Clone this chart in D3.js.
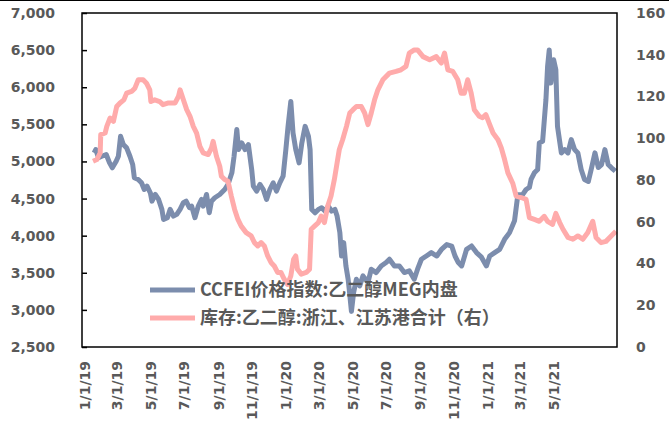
<!DOCTYPE html>
<html>
<head>
<meta charset="utf-8">
<script src="https://cdnjs.cloudflare.com/ajax/libs/d3/7.8.5/d3.min.js"></script>
<style>
  body { margin: 0; background: #fff; }
  svg { display: block; }
</style>
</head>
<body>
<div id="chart"></div>
<script>
// price index (left axis)
var priceDates = ["2019-01-19","2019-01-22","2019-01-27","2019-02-02","2019-02-10","2019-02-16","2019-02-21","2019-02-28","2019-03-04","2019-03-08","2019-03-13","2019-03-19","2019-03-25","2019-03-30","2019-04-02","2019-04-09","2019-04-15","2019-04-20","2019-04-25","2019-05-01","2019-05-04","2019-05-10","2019-05-16","2019-05-22","2019-05-25","2019-06-01","2019-06-06","2019-06-12","2019-06-18","2019-06-24","2019-06-30","2019-07-05","2019-07-11","2019-07-15","2019-07-21","2019-07-27","2019-08-02","2019-08-05","2019-08-11","2019-08-16","2019-08-20","2019-08-26","2019-09-04","2019-09-13","2019-09-19","2019-09-26","2019-09-30","2019-10-05","2019-10-08","2019-10-14","2019-10-20","2019-10-26","2019-11-01","2019-11-04","2019-11-10","2019-11-16","2019-11-22","2019-11-28","2019-12-04","2019-12-10","2019-12-16","2019-12-22","2019-12-28","2020-01-02","2020-01-06","2020-01-11","2020-01-15","2020-01-20","2020-01-26","2020-01-31","2020-02-06","2020-02-12","2020-02-15","2020-02-18","2020-02-24","2020-03-01","2020-03-07","2020-03-13","2020-03-19","2020-03-25","2020-03-31","2020-04-04","2020-04-09","2020-04-12","2020-04-16","2020-04-20","2020-04-24","2020-04-26","2020-04-30","2020-05-04","2020-05-09","2020-05-15","2020-05-21","2020-05-30","2020-06-05","2020-06-14","2020-06-23","2020-07-02","2020-07-08","2020-07-17","2020-07-26","2020-08-04","2020-08-13","2020-08-22","2020-08-28","2020-09-04","2020-09-13","2020-09-22","2020-10-02","2020-10-11","2020-10-20","2020-10-29","2020-11-04","2020-11-10","2020-11-16","2020-11-25","2020-12-04","2020-12-13","2020-12-22","2020-12-31","2021-01-06","2021-01-15","2021-01-24","2021-02-02","2021-02-11","2021-02-20","2021-02-26","2021-03-07","2021-03-13","2021-03-19","2021-03-22","2021-03-28","2021-04-03","2021-04-06","2021-04-12","2021-04-18","2021-04-21","2021-04-24","2021-04-27","2021-05-02","2021-05-06","2021-05-09","2021-05-16","2021-05-22","2021-05-28","2021-06-03","2021-06-09","2021-06-15","2021-06-21","2021-06-27","2021-07-04","2021-07-10","2021-07-16","2021-07-22","2021-07-28","2021-08-03","2021-08-09","2021-08-15","2021-08-22"];
var priceValues = [5115,5160,5052,5070,5093,4981,4914,5003,5070,5338,5227,5183,5070,4958,4780,4757,4712,4622,4667,4578,4465,4555,4488,4354,4219,4242,4354,4264,4287,4354,4444,4465,4377,4398,4242,4398,4488,4398,4555,4309,4465,4511,4555,4622,4690,4847,5070,5429,5160,5250,5160,5227,4891,4667,4600,4690,4622,4488,4622,4712,4600,4712,4801,5160,5473,5809,5384,5160,4981,5250,5473,5338,5160,4354,4309,4354,4377,4331,4398,4331,4354,4264,4041,3726,3906,3592,3413,3279,2980,3235,3413,3323,3458,3369,3548,3503,3592,3638,3682,3592,3592,3503,3526,3413,3548,3682,3726,3772,3726,3820,3880,3860,3726,3638,3592,3816,3861,3772,3710,3592,3726,3772,3816,3951,4041,4200,4550,4555,4622,4650,4757,4847,4891,5250,5271,5831,6279,6503,6056,6369,6234,5473,5115,5160,5115,5294,5160,5115,4891,4757,4730,4918,5115,4918,4958,5160,4958,4914,4868];

// port inventory (right axis)
var invDates = ["2019-01-17","2019-01-24","2019-01-30","2019-01-31","2019-02-08","2019-02-11","2019-02-17","2019-02-23","2019-03-01","2019-03-07","2019-03-14","2019-03-19","2019-03-28","2019-04-03","2019-04-09","2019-04-18","2019-04-24","2019-04-30","2019-05-02","2019-05-09","2019-05-18","2019-05-24","2019-06-03","2019-06-15","2019-06-21","2019-06-24","2019-06-30","2019-07-06","2019-07-12","2019-07-18","2019-07-24","2019-07-30","2019-08-05","2019-08-14","2019-08-20","2019-08-23","2019-08-29","2019-09-04","2019-09-07","2019-09-13","2019-09-19","2019-09-25","2019-10-01","2019-10-07","2019-10-13","2019-10-22","2019-10-31","2019-11-06","2019-11-12","2019-11-18","2019-11-24","2019-11-30","2019-12-06","2019-12-12","2019-12-18","2019-12-24","2019-12-30","2020-01-05","2020-01-11","2020-01-16","2020-01-20","2020-01-23","2020-01-30","2020-02-08","2020-02-14","2020-02-17","2020-02-23","2020-03-01","2020-03-06","2020-03-12","2020-03-18","2020-03-24","2020-03-30","2020-04-04","2020-04-08","2020-04-14","2020-04-21","2020-04-27","2020-05-03","2020-05-09","2020-05-18","2020-05-24","2020-05-30","2020-06-05","2020-06-11","2020-06-17","2020-06-26","2020-07-08","2020-07-20","2020-07-29","2020-08-07","2020-08-13","2020-08-22","2020-08-28","2020-09-07","2020-09-19","2020-10-01","2020-10-10","2020-10-16","2020-10-22","2020-10-31","2020-11-09","2020-11-15","2020-11-21","2020-11-27","2020-12-03","2020-12-09","2020-12-18","2020-12-24","2020-12-30","2021-01-06","2021-01-12","2021-01-21","2021-01-27","2021-02-02","2021-02-08","2021-02-17","2021-02-23","2021-03-04","2021-03-13","2021-03-19","2021-03-28","2021-04-06","2021-04-15","2021-04-21","2021-04-30","2021-05-06","2021-05-13","2021-05-19","2021-05-28","2021-06-06","2021-06-15","2021-06-24","2021-07-03","2021-07-12","2021-07-18","2021-07-27","2021-08-05","2021-08-14","2021-08-23"];
var invValues = [89,89.8,93,101.7,102.5,105.7,109.7,108.1,115.2,116.9,118.4,121.6,122.4,124,128,128,126.4,123.2,117.6,118.4,117.6,116.1,116.9,116.9,120,123.2,118.4,113.7,110.5,105.7,102.5,96.1,93,92.2,95.4,98.5,91.4,86.6,81.8,80.2,79.4,72.3,65.9,61.1,57.9,54.8,53.2,50,48.4,50,48.4,43.6,40.5,38.8,35.7,35.7,32.5,30,34.1,42,43.6,37.3,34.9,35.7,37.3,56.4,57.9,59.6,62.7,59.6,67.5,72.3,80.2,88.2,94.6,99.3,105.7,112.1,113.7,115.2,115.2,112.1,106.5,112.1,118.4,123.2,128,131.2,132,132.8,134.4,140.8,142.3,142.3,139.1,137.6,139.1,136,140.8,132.8,132,128,121.6,121.6,128,122,113.7,110.5,109.8,111.3,106.5,102.5,99.3,95.4,89.8,83.4,78.3,72.3,71.6,70.7,62,61.1,60.2,62.6,60.2,58.7,64,59.6,56.4,52.5,51.6,53.2,51.6,54.8,60.2,52.5,50,50.6,53,55.4];

var leftTicks = [2500,3000,3500,4000,4500,5000,5500,6000,6500,7000];
var rightTicks = [0,20,40,60,80,100,120,140,160];
var xTickLabels = ["1/1/19","3/1/19","5/1/19","7/1/19","9/1/19","11/1/19","1/1/20","3/1/20","5/1/20","7/1/20","9/1/20","11/1/20","1/1/21","3/1/21","5/1/21"];
var seriesNames = ["CCFEI价格指数:乙二醇MEG内盘", "库存:乙二醇:浙江、江苏港合计（右）"];
var seriesColors = ["#7c8dad", "#ffabab"];

var W = 669, H = 423;
var margin = {top: 13, left: 82, right: 52, bottom: 76};
var width = W - margin.left - margin.right,
    height = H - margin.top - margin.bottom;

var parseDay = d3.timeParse("%Y-%m-%d");
var parseTick = d3.timeParse("%m/%d/%y");

var svg = d3.select("#chart").append("svg")
    .attr("width", W)
    .attr("height", H);

// thin rule across the top of the picture
svg.append("line")
    .attr("x1", 0).attr("x2", W)
    .attr("y1", 0.5).attr("y2", 0.5)
    .attr("stroke", "#000").attr("stroke-width", 1);

var g = svg.append("g")
    .attr("transform", "translate(" + margin.left + "," + margin.top + ")");

var x = d3.scaleTime()
    .domain([parseDay("2018-12-28"), parseDay("2021-08-25")])
    .range([0, width]);
var yL = d3.scaleLinear().domain([2500, 7000]).range([height, 0]);
var yR = d3.scaleLinear().domain([0, 160]).range([height, 0]);

var labelFont = "DejaVu Sans, sans-serif";

// left axis
var leftAxis = g.append("g")
    .call(d3.axisLeft(yL).tickValues(leftTicks).tickSize(-5).tickPadding(27).tickFormat(d3.format(",")));
leftAxis.select(".domain").remove();
leftAxis.selectAll(".tick line").attr("stroke", "#000").attr("stroke-width", 1.5);
leftAxis.selectAll("text")
    .attr("fill", "#595959").style("font", "bold 14px " + labelFont);

// right axis
var rightAxis = g.append("g")
    .attr("transform", "translate(" + width + ",0)")
    .call(d3.axisRight(yR).tickValues(rightTicks).tickSize(0).tickPadding(19));
rightAxis.select(".domain").remove();
rightAxis.selectAll("text")
    .attr("fill", "#595959").style("font", "bold 14px " + labelFont);

// bottom axis, rotated labels
var bottomAxis = g.append("g")
    .attr("transform", "translate(0," + height + ")")
    .call(d3.axisBottom(x).tickValues(xTickLabels.map(function(s) { return parseTick(s); }))
        .tickSize(0).tickFormat(function(d, i) { return xTickLabels[i]; }));
bottomAxis.select(".domain").remove();
bottomAxis.selectAll("text")
    .attr("fill", "#595959").style("font", "bold 14px " + labelFont)
    .attr("text-anchor", "end")
    .attr("transform", "rotate(-90)")
    .attr("x", -14).attr("y", 0).attr("dy", "0.36em");

// series
var priceData = priceDates.map(function(d, i) { return {date: parseDay(d), value: priceValues[i]}; });
var invData = invDates.map(function(d, i) { return {date: parseDay(d), value: invValues[i]}; });

g.append("path")
    .datum(priceData)
    .attr("fill", "none")
    .attr("stroke", seriesColors[0])
    .attr("stroke-width", 5)
    .attr("stroke-linejoin", "round")
    .attr("d", d3.line().x(function(d) { return x(d.date); }).y(function(d) { return yL(d.value); }));

g.append("path")
    .datum(invData)
    .attr("fill", "none")
    .attr("stroke", seriesColors[1])
    .attr("stroke-width", 5)
    .attr("stroke-linejoin", "round")
    .attr("d", d3.line().x(function(d) { return x(d.date); }).y(function(d) { return yR(d.value); }));

// frame
g.append("rect")
    .attr("width", width).attr("height", height)
    .attr("fill", "none").attr("stroke", "#000").attr("stroke-width", 1.5);

// legend
var legend = svg.append("g").attr("transform", "translate(150,290)");
seriesNames.forEach(function(name, i) {
    var row = legend.append("g").attr("transform", "translate(0," + (i * 28) + ")");
    row.append("line")
        .attr("x1", 0).attr("x2", 45)
        .attr("stroke", seriesColors[i]).attr("stroke-width", 5);
    row.append("text")
        .attr("x", 50).attr("dy", "0.35em")
        .attr("fill", "#595959")
        .style("font", "bold 18px 'Noto Sans CJK SC', sans-serif")
        .text(name);
});
</script>
</body>
</html>
